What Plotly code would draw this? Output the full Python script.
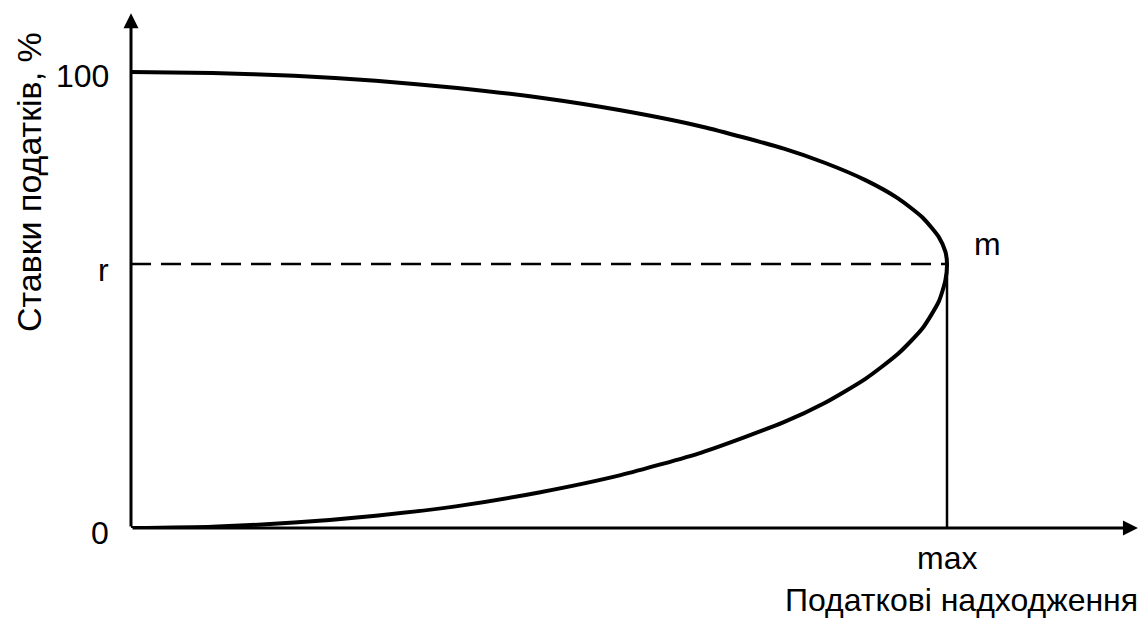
import plotly.graph_objects as go

# Laffer curve: tax revenue (x, % of max) vs tax rate (y, %)
revenue_upper = [0, 10, 20, 30, 40, 50, 60, 70, 80, 85, 90, 94, 97, 99, 99.8, 100]
rate_upper = [100, 99.8, 99.2, 98.1, 96.5, 94.4, 91.6, 88.0, 83.2, 80.1, 76.3, 72.3, 68.1, 63.8, 60.6, 57.9]
revenue_lower = [99.8, 99, 97, 94, 90, 85, 80, 70, 60, 50, 40, 30, 20, 10, 0]
rate_lower = [54.3, 49.7, 43.8, 38.2, 32.7, 27.4, 23.2, 16.6, 11.6, 7.8, 4.8, 2.7, 1.2, 0.3, 0]

r_rate = 57.9
max_revenue = 100
x_range = [0, 123.65]
y_range = [0, 112.94]
x_axis_end = 123.4
y_axis_end = 112.9

FONT = "Liberation Sans, Arial, sans-serif"
FS = 32

fig = go.Figure()

# dashed line at r
fig.add_trace(go.Scatter(x=[0, max_revenue], y=[r_rate, r_rate], mode="lines",
                         line=dict(color="black", width=2.5, dash="20px,10px"),
                         hoverinfo="skip", showlegend=False))
# vertical line at max
fig.add_trace(go.Scatter(x=[max_revenue, max_revenue], y=[r_rate, 0], mode="lines",
                         line=dict(color="black", width=2.5),
                         hoverinfo="skip", showlegend=False))
# curve
fig.add_trace(go.Scatter(x=revenue_upper + revenue_lower, y=rate_upper + rate_lower,
                         mode="lines", line=dict(color="black", width=4, shape="spline", smoothing=0.6),
                         showlegend=False, cliponaxis=False))

annotations = []
# axes arrows
annotations.append(dict(x=0, y=y_axis_end, ax=0, ay=0, xref="x", yref="y", axref="x", ayref="y",
                        text="", showarrow=True, arrowhead=2, arrowwidth=3, arrowsize=1, arrowcolor="black"))
annotations.append(dict(x=x_axis_end, y=0, ax=0, ay=0, xref="x", yref="y", axref="x", ayref="y",
                        text="", showarrow=True, arrowhead=2, arrowwidth=3, arrowsize=1, arrowcolor="black"))

def lab(text, x, y, xanchor="center", xref="paper", yref="paper", size=FS, **kw):
    d = dict(text=text, x=x, y=y, xref=xref, yref=yref, xanchor=xanchor, yanchor="middle",
             showarrow=False, font=dict(family=FONT, size=size, color="black"))
    d.update(kw)
    return d

annotations.append(lab("100", -20 / 1009, (528 - 76) / 515, xanchor="right"))
annotations.append(lab("r", -20 / 1009, (528 - 270) / 515, xanchor="right"))
annotations.append(lab("0", -20 / 1009, (528 - 533) / 515, xanchor="right"))
annotations.append(lab("m", 104.9, 62.3, xref="x", yref="y"))
annotations.append(lab("max", max_revenue, (528 - 558) / 515, xref="x"))
annotations.append(lab("Податкові надходження", 1.0, (528 - 600) / 515, xanchor="right"))
annotations.append(lab("Ставки податків, %", -102 / 1009, (528 - 182) / 515, size=34, textangle=-90))

fig.update_layout(
    width=1148, height=619,
    margin=dict(l=131, r=8, t=13, b=91),
    paper_bgcolor="white", plot_bgcolor="white",
    xaxis=dict(range=x_range, visible=False, fixedrange=True),
    yaxis=dict(range=y_range, visible=False, fixedrange=True),
    annotations=annotations,
    showlegend=False,
)

fig.write_html("out.html", config={"displayModeBar": False},
               post_script="document.body.style.margin='0';document.body.style.overflow='hidden';")
